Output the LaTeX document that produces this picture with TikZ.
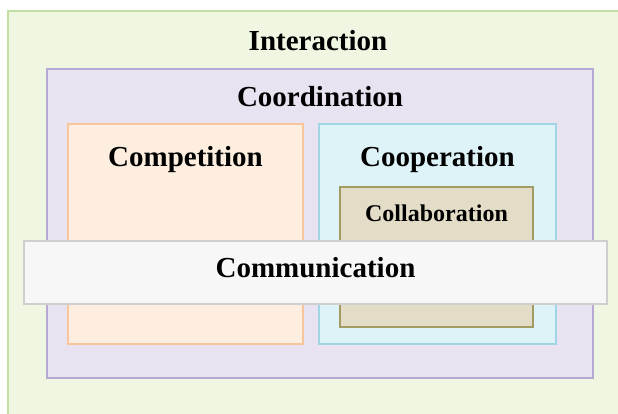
\documentclass[tikz,border=0pt]{standalone}
\usepackage{fontspec}
\setmainfont{Liberation Serif}
\usepackage{xcolor}
\definecolor{cInter}{HTML}{EFF6E2}
\definecolor{cInterLine}{HTML}{C4DFA4}
\definecolor{cCoord}{HTML}{E9E2F1}
\definecolor{cCoordLine}{HTML}{B7A9D5}
\definecolor{cComp}{HTML}{FDEEDF}
\definecolor{cCompLine}{HTML}{F7C69D}
\definecolor{cCoop}{HTML}{DEF3F8}
\definecolor{cCoopLine}{HTML}{9FD5E5}
\definecolor{cCollab}{HTML}{E3DDC7}
\definecolor{cCollabLine}{HTML}{A29C64}
\definecolor{cComm}{HTML}{F7F7F7}
\definecolor{cCommLine}{HTML}{CFCFCF}
\usepackage{tikz}
\usetikzlibrary{positioning}
\tikzset{
  node-area/.style={line width=1.3pt,anchor=north west,inner sep=0pt,outer sep=0pt},
  node-inter/.style={node-area,draw=cInterLine,fill=cInter},
  node-coord/.style={node-area,draw=cCoordLine,fill=cCoord},
  node-comp/.style={node-area,draw=cCompLine,fill=cComp},
  node-coop/.style={node-area,draw=cCoopLine,fill=cCoop},
  node-collab/.style={node-area,draw=cCollabLine,fill=cCollab},
  node-comm/.style={node-area,draw=cCommLine,fill=cComm},
  node-title/.style={anchor=base,inner sep=0pt,font=\fontsize{29}{32}\selectfont\bfseries},
  node-title-small/.style={node-title,font=\fontsize{24}{27}\selectfont\bfseries},
}

\begin{document}
\begin{tikzpicture}[x=1pt,y=-1pt]
  \useasboundingbox (0,0) rectangle (618,414);
  \clip (0,0) rectangle (618,414);
  \fill[white] (0,0) rectangle (618,414);
  % nested areas
  \node[node-inter,minimum width=620pt,minimum height=420pt] (interaction) at (8,11) {};
  \node[node-coord,minimum width=546pt,minimum height=309pt] (coordination) at (47,69) {};
  \node[node-comp,minimum width=235pt,minimum height=220pt] (competition) at (68,124) {};
  \node[node-coop,minimum width=237pt,minimum height=220pt] (cooperation) at (319,124) {};
  \node[node-collab,minimum width=193pt,minimum height=140pt] (collaboration) at (340,187) {};
  \node[node-comm,minimum width=583pt,minimum height=63pt] (communication) at (24,241) {};
  % titles
  \node[node-title] (t-interaction) at ([yshift=-40pt]interaction.north) {Interaction};
  \node[node-title] (t-coordination) at ([yshift=-38pt]coordination.north) {Coordination};
  \node[node-title] (t-competition) at ([yshift=-43pt]competition.north) {Competition};
  \node[node-title] (t-cooperation) at ([yshift=-43pt]cooperation.north) {Cooperation};
  \node[node-title-small] (t-collaboration) at ([yshift=-35pt]collaboration.north) {Collaboration};
  \node[node-title] (t-communication) at ([yshift=-36pt]communication.north) {Communication};
\end{tikzpicture}
\end{document}
